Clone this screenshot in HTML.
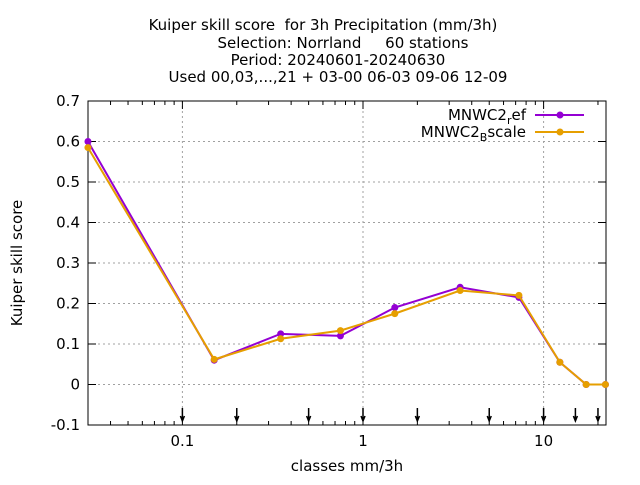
<!DOCTYPE html>
<html><head><meta charset="utf-8"><style>
body{margin:0;background:#fff;}
svg text{font-family:"DejaVu Sans","Liberation Sans",sans-serif;fill:#000;white-space:pre;}
</style></head><body>
<svg id="chart" width="640" height="480" viewBox="0 0 640 480" xmlns="http://www.w3.org/2000/svg">
<rect width="640" height="480" fill="#fff"/>
<g font-size="15" text-anchor="middle">
<text x="323" y="30" style="font-size:15px">Kuiper skill score  for 3h Precipitation (mm/3h)</text>
<text x="343" y="48" style="font-size:15px">Selection: Norrland     60 stations</text>
<text x="338" y="65" style="font-size:15px">Period: 20240601-20240630</text>
<text x="338" y="82" style="font-size:15px">Used 00,03,...,21 + 03-00 06-03 09-06 12-09</text>
</g>
<g id="grid"></g><g id="axes"></g><g id="series"></g>
<text x="22" y="263" transform="rotate(-90 22 263)" text-anchor="middle" style="font-size:15px">Kuiper skill score</text>
<text x="347" y="471" text-anchor="middle" style="font-size:15px">classes mm/3h</text>
<g>
<text x="526" y="120" text-anchor="end" style="font-size:15px">MNWC2<tspan dy="4" style="font-size:11px">r</tspan><tspan dy="-4">ef</tspan></text>
<line x1="535" y1="115" x2="584" y2="115" stroke="#9400d3" stroke-width="2"/><circle cx="560" cy="115" r="3.5" fill="#9400d3"/>
<text x="526" y="137" text-anchor="end" style="font-size:15px">MNWC2<tspan dy="4" style="font-size:11px">B</tspan><tspan dy="-4">scale</tspan></text>
<line x1="535" y1="132" x2="584" y2="132" stroke="#e69f00" stroke-width="2"/><circle cx="560" cy="132" r="3.5" fill="#e69f00"/>
</g>
</svg>
<script>
const classes=[0.03,0.15,0.35,0.75,1.5,3.45,7.3,12.3,17.2,22];
const refValues=[0.6,0.06,0.125,0.12,0.19,0.24,0.215,0.055,0,0];
const bscaleValues=[0.585,0.062,0.113,0.133,0.175,0.232,0.22,0.055,0,0];
const yTicks=[-0.1,0,0.1,0.2,0.3,0.4,0.5,0.6,0.7];
const yTickLabels=["-0.1","0","0.1","0.2","0.3","0.4","0.5","0.6","0.7"];
const xTicks=[0.1,1,10];
const xTickLabels=["0.1","1","10"];
const arrowPositions=[0.1,0.2,0.5,1,2,5,10,15,20];
const L=88,R=606,T=101,B=425;
const NS="http://www.w3.org/2000/svg";
function X(v){return 363+Math.log10(v)*180.6;}
function Y(v){return B-(v+0.1)/0.8*(B-T);}
function mk(p,t,a){const e=document.createElementNS(NS,t);for(const k in a)e.setAttribute(k,a[k]);p.appendChild(e);return e;}
const grid=document.getElementById('grid'),axes=document.getElementById('axes'),ser=document.getElementById('series');
yTicks.forEach((v,i)=>{const y=Y(v);
 if(i>0&&i<yTicks.length-1){const g=mk(grid,'line',{x1:L,x2:R,y1:y,y2:y,stroke:'#a0a0a0','stroke-dasharray':'2,3'});
 
 }
 mk(axes,'line',{x1:L,x2:L+8,y1:y,y2:y,stroke:'#000'});mk(axes,'line',{x1:R-8,x2:R,y1:y,y2:y,stroke:'#000'});
 const t=mk(axes,'text',{x:L-8,y:y+5,'text-anchor':'end',style:'font-size:15px'});t.textContent=yTickLabels[i];
 
 });
for(let d=-2;d<=1;d++)for(let m=1;m<10;m++){const v=m*Math.pow(10,d);const x=X(v);if(x<L||x>R)continue;const len=m==1?8:4;
 mk(axes,'line',{x1:x,x2:x,y1:B,y2:B-len,stroke:'#000'});mk(axes,'line',{x1:x,x2:x,y1:T,y2:T+len,stroke:'#000'});}
xTicks.forEach((v,i)=>{const x=X(v);
 const g=mk(grid,'line',{x1:x,x2:x,y1:T,y2:B,stroke:'#a0a0a0','stroke-dasharray':'2,3'});
 
 
 const t=mk(axes,'text',{x:x,y:B+21,'text-anchor':'middle',style:'font-size:15px'});t.textContent=xTickLabels[i];
 
 });
const fr=mk(axes,'rect',{x:L,y:T,width:R-L,height:B-T,fill:'none',stroke:'#000'});


arrowPositions.forEach(v=>{const x=X(v);
 const a=mk(axes,'path',{d:`M${x} 408 L${x} 421 M${x-2} 416 L${x} 421 L${x+2} 416`,stroke:'#000','stroke-width':1.5,fill:'none'});
 
 });
function series(vals,color,name){
 const p=mk(ser,'polyline',{points:classes.map((c,i)=>X(c)+','+Y(vals[i])).join(' '),fill:'none',stroke:color,'stroke-width':2});
 
 
 classes.forEach((c,i)=>{const m=mk(ser,'circle',{cx:X(c),cy:Y(vals[i]),r:3.5,fill:color});
 
 });}
series(refValues,'#9400d3','ref');
series(bscaleValues,'#e69f00','bscale');
</script>
</body></html>
